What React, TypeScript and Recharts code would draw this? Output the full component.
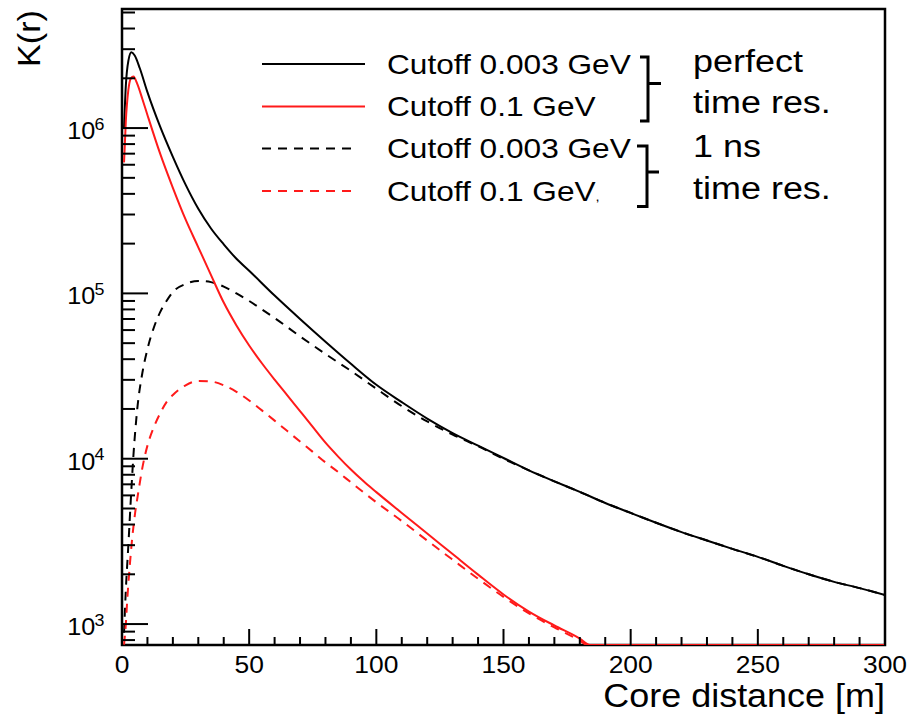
import { LineChart, Line, XAxis, YAxis, ReferenceArea } from "recharts";

// K(r) vs core distance: [r in m, K]
const blackPerfect = [
  [0.8, 1.0e6], [1.5, 1.8e6], [2.5, 2.55e6], [3.7, 2.87e6], [5, 2.75e6], [7, 2.3e6], [10, 1.65e6],
  [15, 1.02e6], [20, 6.7e5], [25, 4.55e5], [30, 3.25e5], [35, 2.47e5], [40, 1.98e5], [45, 1.62e5],
  [50, 1.37e5], [60, 9.7e4], [70, 7.0e4], [80, 5.1e4], [90, 3.75e4], [100, 2.8e4], [110, 2.2e4],
  [120, 1.75e4], [130, 1.43e4], [140, 1.2e4], [150, 1.01e4], [160, 8.5e3], [170, 7.3e3], [180, 6.3e3],
  [190, 5.4e3], [200, 4.7e3], [210, 4.1e3], [220, 3.6e3], [230, 3.2e3], [240, 2.85e3], [250, 2.55e3],
  [260, 2.25e3], [270, 2.0e3], [280, 1.8e3], [290, 1.65e3], [300, 1.5e3],
];

const redPerfect = [
  [0.8, 6.2e5], [1.5, 1.1e6], [2.5, 1.7e6], [3.5, 2.0e6], [4.5, 2.05e6], [6, 1.85e6], [8, 1.5e6],
  [10, 1.2e6], [15, 7.0e5], [20, 4.35e5], [25, 2.8e5], [30, 1.9e5], [35, 1.29e5], [40, 8.8e4],
  [45, 6.4e4], [50, 4.84e4], [55, 3.78e4], [60, 3.01e4], [65, 2.42e4], [70, 1.94e4], [75, 1.556e4],
  [80, 1.25e4], [85, 1.03e4], [90, 8.6e3], [95, 7.3e3], [100, 6.28e3], [110, 4.7e3], [120, 3.53e3],
  [130, 2.65e3], [140, 1.99e3], [150, 1.51e3], [160, 1.19e3], [170, 980], [180, 817], [184, 747],
  [300, 747],
];

const blackTimeRes = [
  [0.8, 885], [1.5, 1.6e3], [2.5, 3.0e3], [3.5, 5.8e3], [4.5, 1.05e4], [6, 2.0e4], [8, 3.3e4],
  [10, 4.6e4], [12.5, 6.2e4], [15, 7.7e4], [17.5, 9.0e4], [20, 1.02e5], [25, 1.14e5], [30, 1.19e5],
  [35, 1.17e5], [40, 1.1e5], [45, 1.0e5], [50, 9.0e4], [55, 8.0e4], [60, 7.1e4], [70, 5.5e4],
  [80, 4.3e4], [90, 3.4e4], [100, 2.65e4], [110, 2.08e4], [120, 1.68e4], [130, 1.4e4], [140, 1.19e4],
  [150, 1.0e4], [160, 8.5e3], [170, 7.3e3], [180, 6.3e3], [190, 5.4e3], [200, 4.7e3], [210, 4.1e3],
  [220, 3.6e3], [230, 3.2e3], [240, 2.85e3], [250, 2.55e3], [260, 2.25e3], [270, 2.0e3],
  [280, 1.8e3], [290, 1.65e3], [300, 1.5e3],
];

const redTimeRes = [
  [0.8, 750], [1.5, 1.0e3], [2, 1.35e3], [3, 2.2e3], [4, 3.3e3], [5, 4.5e3], [6.5, 6.4e3],
  [8, 8.8e3], [10, 1.2e4], [12.5, 1.55e4], [15, 1.88e4], [17.5, 2.2e4], [20, 2.43e4], [25, 2.78e4],
  [30, 2.95e4], [35, 2.93e4], [40, 2.78e4], [45, 2.54e4], [50, 2.25e4], [55, 1.96e4], [60, 1.7e4],
  [65, 1.47e4], [70, 1.27e4], [75, 1.1e4], [80, 9.5e3], [85, 8.3e3], [90, 7.2e3], [95, 6.25e3],
  [100, 5.45e3], [110, 4.2e3], [120, 3.2e3], [130, 2.45e3], [140, 1.88e3], [150, 1.46e3],
  [160, 1.16e3], [170, 955], [180, 795], [183, 747], [300, 747],
];

const xTicks = [0, 10, 20, 30, 40, 50, 60, 70, 80, 90, 100, 110, 120, 130, 140, 150, 160, 170, 180, 190, 200, 210, 220, 230, 240, 250, 260, 270, 280, 290, 300];
const yTicks = [
  800, 900,
  1e3, 2e3, 3e3, 4e3, 5e3, 6e3, 7e3, 8e3, 9e3,
  1e4, 2e4, 3e4, 4e4, 5e4, 6e4, 7e4, 8e4, 9e4,
  1e5, 2e5, 3e5, 4e5, 5e5, 6e5, 7e5, 8e5, 9e5,
  1e6, 2e6, 3e6, 4e6, 5e6,
];
const yMin = 747;
const yMax = 5.25e6;

const legendRows = [
  { label: "Cutoff 0.003 GeV", color: "#000", dash: false },
  { label: "Cutoff 0.1 GeV", color: "#ff1a1a", dash: false },
  { label: "Cutoff 0.003 GeV", color: "#000", dash: true },
  { label: "Cutoff 0.1 GeV", color: "#ff1a1a", dash: true },
];
const groupLabels = ["perfect", "time res.", "1 ns", "time res."];

const font = "Liberation Sans";
const dashPattern = "9 7";

const pts = (pairs: number[][]) => pairs.map(([r, k]) => ({ r, k }));

// text with a slight horizontal stretch, like the original Helvetica rendering
function T({ x, y, size, sx = 1, anchor = "start", rotate = 0, children }: any) {
  return (
    <text
      transform={`translate(${x},${y}) rotate(${rotate}) scale(${sx},1)`}
      textAnchor={anchor}
      fontSize={size}
      fontFamily={font}
      fill="#000"
    >
      {children}
    </text>
  );
}

function XTick(props: any) {
  const { x, y, payload } = props;
  const major = payload.value % 50 === 0;
  return (
    <g>
      <line x1={x} x2={x} y1={y} y2={y - (major ? 16 : 8)} stroke="#000" strokeWidth={2} />
      {major && <T x={x} y={y + 28} size={24} sx={1.1} anchor="middle">{payload.value}</T>}
    </g>
  );
}

function YTick(props: any) {
  const { x, y, payload } = props;
  const v = payload.value;
  const e = Math.round(Math.log10(v));
  const major = Math.abs(v - Math.pow(10, e)) < 1e-6 * v;
  return (
    <g>
      <line x1={x} x2={x + (major ? 26 : 13)} y1={y} y2={y} stroke="#000" strokeWidth={2} />
      {major && (
        <>
          <T x={x - 26.7} y={y + 11} size={24} sx={1.05} anchor="end">10</T>
          <T x={x - 27.5} y={y + 1.5} size={17} sx={1.05}>{e}</T>
        </>
      )}
    </g>
  );
}

function Overlay() {
  const rowY = [64, 106.5, 148.5, 191];
  const groupY = [72, 113, 157, 199];
  return (
    <svg width={910} height={724} style={{ position: "absolute", left: 0, top: 0, pointerEvents: "none" }}>
      <T x={40} y={10} size={32} sx={1.07} rotate={-90} anchor="end">K(r)</T>
      <T x={885} y={707} size={33} sx={1.09} anchor="end">Core distance [m]</T>

      {legendRows.map((row, i) => (
        <g key={i}>
          <line
            x1={262}
            x2={row.dash ? 357 : 365}
            y1={rowY[i]}
            y2={rowY[i]}
            stroke={row.color}
            strokeWidth={2}
            strokeDasharray={row.dash ? dashPattern : undefined}
          />
          <T x={387} y={rowY[i] + 9.5} size={28} sx={1.13}>
            {row.label}
            {i === 3 && <tspan fontSize={13}>,</tspan>}
          </T>
        </g>
      ))}

      <path d="M640 57 L648 57 L648 121 L640 121 M648 83.5 L661 83.5" fill="none" stroke="#000" strokeWidth={3} />
      <path d="M637 146 L647 146 L647 206.5 L637 206.5 M647 172 L659 172" fill="none" stroke="#000" strokeWidth={3} />

      {groupLabels.map((g, i) => (
        <T key={i} x={693} y={groupY[i]} size={31} sx={1.16}>{g}</T>
      ))}
    </svg>
  );
}

export default function App() {
  return (
    <div style={{ position: "absolute", left: 0, top: 0, width: 910, height: 724, background: "#fff" }}>
      <LineChart width={910} height={724} margin={{ top: 9, right: 25, bottom: 49, left: 0 }}>
        <XAxis
          type="number"
          dataKey="r"
          domain={[0, 300]}
          ticks={xTicks}
          interval={0}
          allowDataOverflow
          height={30}
          axisLine={false}
          tickLine={false}
          tickSize={0}
          tickMargin={0}
          tick={(p: any) => <XTick {...p} />}
        />
        <YAxis
          type="number"
          dataKey="k"
          scale="log"
          domain={[yMin, yMax]}
          ticks={yTicks}
          interval={0}
          allowDataOverflow
          width={122}
          axisLine={false}
          tickLine={false}
          tickSize={0}
          tickMargin={0}
          tick={(p: any) => <YTick {...p} />}
        />
        <ReferenceArea x1={0} x2={300} y1={yMin} y2={yMax} fill="none" stroke="#000" strokeWidth={2.5} ifOverflow="visible" />
        <Line data={pts(blackPerfect)} dataKey="k" type="monotone" stroke="#000" strokeWidth={2} dot={false} activeDot={false} isAnimationActive={false} />
        <Line data={pts(blackTimeRes)} dataKey="k" type="monotone" stroke="#000" strokeWidth={2} strokeDasharray={dashPattern} dot={false} activeDot={false} isAnimationActive={false} />
        <Line data={pts(redPerfect)} dataKey="k" type="monotone" stroke="#ff1a1a" strokeWidth={2} dot={false} activeDot={false} isAnimationActive={false} />
        <Line data={pts(redTimeRes)} dataKey="k" type="monotone" stroke="#ff1a1a" strokeWidth={2} strokeDasharray={dashPattern} dot={false} activeDot={false} isAnimationActive={false} />
      </LineChart>
      <Overlay />
    </div>
  );
}
